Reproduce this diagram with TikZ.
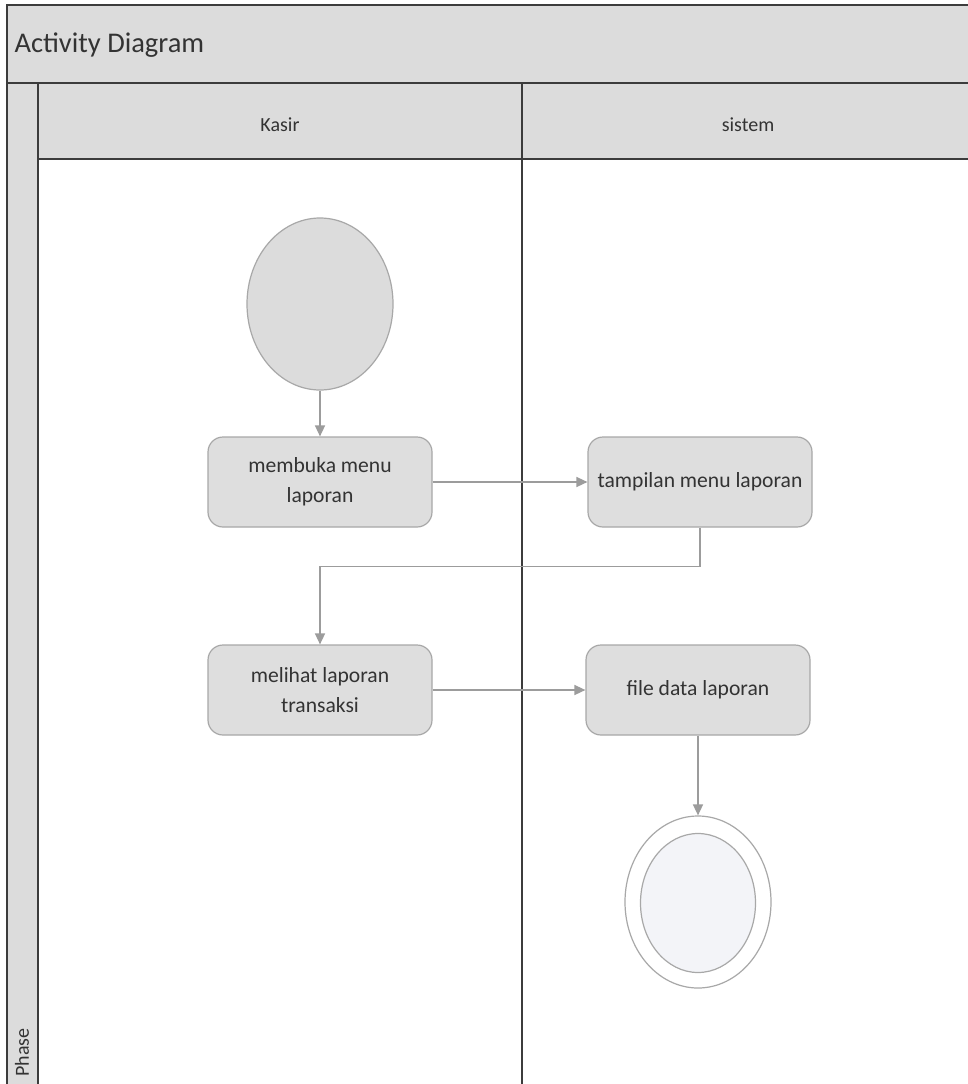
\documentclass[tikz,border=0pt]{standalone}
\usepackage{fontspec}
\setmainfont{Carlito}
\usetikzlibrary{arrows.meta,shapes.geometric}
\definecolor{band}{HTML}{DCDCDC}
\definecolor{frame}{HTML}{3C3C3C}
\definecolor{nodefill}{HTML}{DEDEDE}
\definecolor{nodeedge}{HTML}{A8A8A8}
\definecolor{flow}{HTML}{9C9C9C}
\definecolor{txt}{HTML}{333333}
\definecolor{innerfill}{HTML}{F3F4F8}
\tikzset{
  activity/.style={draw=nodeedge, line width=1.2pt, fill=nodefill, rounded corners=15pt,
    minimum width=224pt, minimum height=90pt, align=center, text=txt,
    font=\fontsize{21.6}{30}\selectfont, inner sep=2pt},
  flowline/.style={draw=flow, line width=1.5pt, -{Triangle[length=11pt,width=10pt]}},
  lanelabel/.style={text=txt, font=\fontsize{20}{24}\selectfont},
}
\begin{document}
\begin{tikzpicture}[x=1pt,y=-1pt]
\useasboundingbox (0,0) rectangle (968,1084);
% bands
\fill[band] (7,5) rectangle (980,83);
\fill[band] (7,83) rectangle (38,1095);
\fill[band] (38,83) rectangle (980,159);
\fill[white] (38,159) rectangle (980,1095);
% frame lines
\draw[frame, line width=2pt] (980,5) -- (7,5) -- (7,1095);
\draw[frame, line width=2pt] (7,83) -- (980,83);
\draw[frame, line width=2pt] (38,159) -- (980,159);
\draw[frame, line width=2pt] (38,83) -- (38,1095);
\draw[frame, line width=2pt] (522,83) -- (522,1095);
% labels
\node[anchor=west, text=txt, font=\fontsize{28.5}{32}\selectfont] (title) at (11,45) {Activity Diagram};
\node[lanelabel] (kasir) at (280,125) {Kasir};
\node[lanelabel] (sistem) at (748,125) {sistem};
\node[lanelabel, rotate=90, anchor=west] (phase) at (22,1080) {Phase};
% nodes
\node[ellipse, draw=nodeedge, line width=1.2pt, fill=band, minimum width=146pt, minimum height=172pt, inner sep=0pt] (start) at (320,304) {};
\node[activity] (a) at (320,482) {membuka menu\\laporan};
\node[activity] (b) at (700,482) {tampilan menu laporan};
\node[activity] (c) at (320,690) {melihat laporan\\transaksi};
\node[activity] (d) at (698,690) {file data laporan};
\node[ellipse, draw=nodeedge, line width=1.2pt, fill=white, minimum width=146pt, minimum height=172pt, inner sep=0pt] (endo) at (698,902) {};
\node[ellipse, draw=nodeedge, line width=1.2pt, fill=innerfill, minimum width=115pt, minimum height=139pt, inner sep=0pt] (endi) at (698,903) {};
% flows
\draw[flowline] (start) -- (a);
\draw[flowline] (a) -- (b);
\draw[flowline] (b.south) -- ++(0,39) -| (c.north);
\draw[flowline] (c) -- (d);
\draw[flowline] (d) -- (endo);
\end{tikzpicture}
\end{document}
